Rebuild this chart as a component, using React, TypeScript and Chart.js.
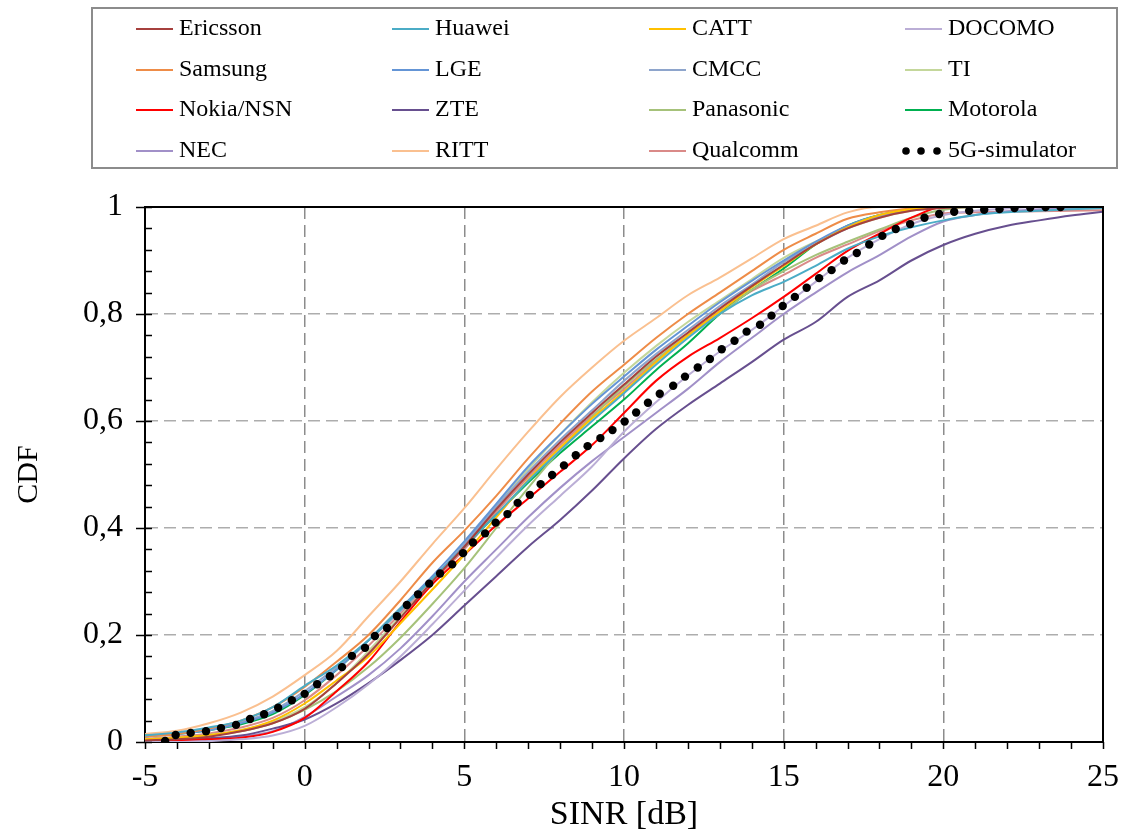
import React, { useEffect, useRef } from "react";
import { Chart, registerables } from "chart.js";

Chart.register(...registerables);

// SINR grid [dB] used by the vendor curves
const sinrGrid = [-5, -4, -3, -2, -1, 0, 1, 2, 3, 4, 5, 6, 7, 8, 9, 10, 11, 12, 13, 14, 15, 16, 17, 18, 19, 20, 21, 22, 23, 24, 25];

const ericsson = [0.003, 0.005, 0.01, 0.02, 0.035, 0.062, 0.11, 0.165, 0.232, 0.3, 0.365, 0.435, 0.5, 0.56, 0.615, 0.668, 0.72, 0.765, 0.81, 0.852, 0.892, 0.93, 0.96, 0.98, 0.993, 0.998, 1, 1, 1, 1, 1];
const huawei = [0.012, 0.018, 0.027, 0.04, 0.065, 0.105, 0.143, 0.19, 0.248, 0.305, 0.365, 0.425, 0.488, 0.545, 0.6, 0.652, 0.705, 0.755, 0.8, 0.835, 0.86, 0.89, 0.922, 0.945, 0.962, 0.975, 0.985, 0.99, 0.993, 0.996, 0.998];
const catt = [0.005, 0.008, 0.013, 0.022, 0.04, 0.072, 0.115, 0.16, 0.222, 0.285, 0.35, 0.42, 0.49, 0.55, 0.605, 0.655, 0.71, 0.76, 0.805, 0.85, 0.89, 0.93, 0.962, 0.985, 0.996, 1, 1, 1, 1, 1, 1];
const docomo = [0, 0, 0.002, 0.005, 0.012, 0.03, 0.065, 0.108, 0.16, 0.22, 0.283, 0.345, 0.405, 0.46, 0.515, 0.58, 0.635, 0.685, 0.73, 0.77, 0.815, 0.86, 0.905, 0.94, 0.968, 0.985, 0.993, 0.997, 1, 1, 1];
const samsung = [0.01, 0.015, 0.025, 0.04, 0.065, 0.103, 0.15, 0.2, 0.265, 0.335, 0.395, 0.46, 0.53, 0.595, 0.655, 0.705, 0.755, 0.8, 0.84, 0.88, 0.92, 0.95, 0.978, 0.99, 0.997, 1, 1, 1, 1, 1, 1];
const lge = [0.01, 0.015, 0.022, 0.035, 0.055, 0.09, 0.135, 0.19, 0.25, 0.31, 0.375, 0.445, 0.515, 0.575, 0.632, 0.683, 0.733, 0.778, 0.822, 0.862, 0.9, 0.935, 0.965, 0.985, 0.995, 1, 1, 1, 1, 1, 1];
const cmcc = [0.01, 0.016, 0.024, 0.037, 0.058, 0.095, 0.14, 0.19, 0.245, 0.305, 0.37, 0.44, 0.505, 0.565, 0.62, 0.675, 0.725, 0.77, 0.815, 0.855, 0.897, 0.93, 0.96, 0.982, 0.995, 1, 1, 1, 1, 1, 1];
const ti = [0.005, 0.008, 0.013, 0.022, 0.038, 0.065, 0.11, 0.17, 0.235, 0.3, 0.37, 0.44, 0.51, 0.575, 0.635, 0.69, 0.74, 0.785, 0.825, 0.865, 0.905, 0.935, 0.96, 0.98, 0.993, 1, 1, 1, 1, 1, 1];
const nokia = [0.002, 0.003, 0.005, 0.008, 0.019, 0.045, 0.095, 0.15, 0.225, 0.295, 0.35, 0.405, 0.455, 0.505, 0.555, 0.615, 0.675, 0.72, 0.755, 0.792, 0.832, 0.875, 0.918, 0.95, 0.98, 1, 1, 1, 1, 1, 1];
const zte = [0.002, 0.004, 0.007, 0.012, 0.025, 0.042, 0.072, 0.11, 0.153, 0.2, 0.255, 0.31, 0.365, 0.415, 0.47, 0.53, 0.585, 0.63, 0.67, 0.71, 0.752, 0.785, 0.832, 0.863, 0.9, 0.929, 0.95, 0.965, 0.975, 0.984, 0.991];
const panasonic = [0.004, 0.007, 0.012, 0.02, 0.035, 0.06, 0.095, 0.14, 0.195, 0.258, 0.325, 0.4, 0.475, 0.545, 0.608, 0.665, 0.715, 0.76, 0.8, 0.845, 0.88, 0.91, 0.935, 0.958, 0.98, 0.995, 1, 1, 1, 1, 1];
const motorola = [0.012, 0.015, 0.022, 0.033, 0.052, 0.088, 0.135, 0.19, 0.25, 0.305, 0.365, 0.425, 0.485, 0.54, 0.59, 0.64, 0.695, 0.745, 0.8, 0.845, 0.885, 0.93, 0.965, 0.985, 0.996, 1, 1, 1, 1, 1, 1];
const nec = [0.001, 0.002, 0.004, 0.01, 0.02, 0.047, 0.085, 0.125, 0.175, 0.235, 0.3, 0.36, 0.42, 0.475, 0.525, 0.57, 0.615, 0.66, 0.71, 0.755, 0.8, 0.84, 0.878, 0.91, 0.945, 0.973, 0.985, 0.992, 0.996, 0.998, 1];
const ritt = [0.015, 0.021, 0.035, 0.055, 0.085, 0.125, 0.17, 0.235, 0.3, 0.37, 0.437, 0.51, 0.58, 0.645, 0.7, 0.75, 0.792, 0.835, 0.868, 0.904, 0.94, 0.965, 0.99, 1, 1, 1, 1, 1, 1, 1, 1];
const qualcomm = [0.006, 0.01, 0.016, 0.027, 0.045, 0.078, 0.125, 0.18, 0.24, 0.3, 0.36, 0.43, 0.495, 0.555, 0.61, 0.66, 0.712, 0.76, 0.805, 0.843, 0.873, 0.905, 0.93, 0.955, 0.975, 0.988, 0.99, 0.991, 0.992, 0.993, 0.994];

// 5G-simulator markers
const simSinr = [-4.37, -4.04, -3.57, -3.09, -2.62, -2.15, -1.71, -1.27, -0.83, -0.4, 0, 0.39, 0.79, 1.17, 1.48, 1.89, 2.2, 2.58, 2.89, 3.2, 3.55, 3.9, 4.24, 4.62, 4.96, 5.27, 5.65, 5.98, 6.35, 6.67, 7.05, 7.39, 7.75, 8.12, 8.49, 8.86, 9.26, 9.64, 10.02, 10.38, 10.75, 11.12, 11.54, 11.91, 12.31, 12.69, 13.06, 13.46, 13.84, 14.26, 14.62, 14.97, 15.35, 15.72, 16.11, 16.5, 16.89, 17.29, 17.68, 18.09, 18.51, 18.96, 19.41, 19.87, 20.34, 20.81, 21.28, 21.76, 22.23, 22.72, 23.2, 23.67];
const simCdf = [0.002, 0.013, 0.017, 0.02, 0.026, 0.032, 0.043, 0.052, 0.064, 0.078, 0.09, 0.108, 0.123, 0.14, 0.161, 0.176, 0.198, 0.213, 0.235, 0.256, 0.276, 0.296, 0.315, 0.332, 0.353, 0.373, 0.39, 0.41, 0.426, 0.447, 0.462, 0.482, 0.499, 0.517, 0.536, 0.553, 0.568, 0.583, 0.599, 0.616, 0.634, 0.651, 0.666, 0.683, 0.7, 0.716, 0.734, 0.75, 0.767, 0.78, 0.797, 0.815, 0.832, 0.849, 0.867, 0.882, 0.9, 0.914, 0.93, 0.946, 0.959, 0.968, 0.98, 0.987, 0.991, 0.993, 0.995, 0.996, 0.998, 0.999, 1, 1];

const yTickValues = [0, 0.2, 0.4, 0.6, 0.8, 1];

// legend order (row-major, 4 columns)
const seriesLabels = ["Ericsson", "Huawei", "CATT", "DOCOMO", "Samsung", "LGE", "CMCC", "TI", "Nokia/NSN", "ZTE", "Panasonic", "Motorola", "NEC", "RITT", "Qualcomm"];
const seriesValues = [ericsson, huawei, catt, docomo, samsung, lge, cmcc, ti, nokia, zte, panasonic, motorola, nec, ritt, qualcomm];
const seriesColors = ["#A6403D", "#4BACC6", "#FFC000", "#BBAED6", "#EE8C48", "#6495D6", "#8EA5CC", "#C4D79B", "#FF0000", "#674F8F", "#A6C27A", "#00B050", "#A190C8", "#FAC090", "#DA8A88"];
const simLabel = "5G-simulator";

const SERIF = '"Liberation Serif", "Times New Roman", serif';

const framePlugin = {
  id: "frameAndLegend",
  afterDraw(chart: any) {
    const { ctx, chartArea: a, scales } = chart;
    const xs = scales.x;
    const ys = scales.y;
    ctx.save();
    // top/right frame
    ctx.strokeStyle = "#000";
    ctx.lineWidth = 2;
    ctx.beginPath();
    ctx.moveTo(a.left, a.top);
    ctx.lineTo(a.right, a.top);
    ctx.lineTo(a.right, a.bottom);
    ctx.stroke();
    // x ticks (every 1 dB, outward)
    ctx.lineWidth = 1.5;
    ctx.beginPath();
    for (let v = -5; v <= 25; v++) {
      const px = Math.round(xs.getPixelForValue(v)) + 0.5;
      ctx.moveTo(px, a.bottom);
      ctx.lineTo(px, a.bottom + 7);
    }
    // y ticks (every 0.04; majors cross the axis)
    for (let k = 0; k <= 25; k++) {
      const py = Math.round(ys.getPixelForValue(k * 0.04)) + 0.5;
      const major = k % 5 === 0;
      ctx.moveTo(major ? a.left - 9 : a.left, py);
      ctx.lineTo(a.left + 7, py);
    }
    ctx.stroke();

    // legend box
    ctx.strokeStyle = "#8C8C8C";
    ctx.lineWidth = 2;
    ctx.strokeRect(92, 8, 1025, 160);
    const colX = [136, 392, 649, 905];
    const rowY = [28, 69, 109, 150];
    ctx.font = "24px " + SERIF;
    ctx.fillStyle = "#000";
    ctx.textBaseline = "middle";
    ctx.textAlign = "left";
    const datasets = chart.data.datasets;
    for (let i = 0; i < 16; i++) {
      const cx = colX[i % 4];
      const cy = rowY[Math.floor(i / 4)];
      const ds = datasets[i];
      if (ds.label === simLabel) {
        ctx.fillStyle = "#000";
        for (const dx of [1, 16, 32]) {
          ctx.beginPath();
          ctx.arc(cx + dx, cy + 1, 3.8, 0, Math.PI * 2);
          ctx.fill();
        }
      } else {
        ctx.strokeStyle = ds.borderColor;
        ctx.lineWidth = 2;
        ctx.beginPath();
        ctx.moveTo(cx, cy + 1);
        ctx.lineTo(cx + 37, cy + 1);
        ctx.stroke();
      }
      ctx.fillStyle = "#000";
      ctx.fillText(ds.label, cx + 43, cy + 1);
    }
    ctx.restore();
  },
};

export default function App() {
  const canvasRef = useRef<HTMLCanvasElement | null>(null);

  useEffect(() => {
    document.body.style.margin = "0";
    const canvas = canvasRef.current;
    if (!canvas) return;

    const vendorSets = seriesLabels.map((label, i) => ({
      label,
      data: sinrGrid.map((x, j) => ({ x, y: seriesValues[i][j] })),
      borderColor: seriesColors[i],
      backgroundColor: seriesColors[i],
      borderWidth: 2,
      pointRadius: 0,
      cubicInterpolationMode: "monotone" as const,
      fill: false,
      order: 1,
    }));
    const simSet = {
      label: simLabel,
      data: simSinr.map((x, j) => ({ x, y: simCdf[j] })),
      showLine: false,
      borderColor: "#000",
      backgroundColor: "#000",
      pointRadius: 4.2,
      pointBorderWidth: 0,
      pointStyle: "circle",
      order: 0,
    };

    const chart = new Chart(canvas, {
      type: "line",
      data: { datasets: [...vendorSets, simSet] as any },
      options: {
        animation: false,
        responsive: false,
        devicePixelRatio: 1,
        layout: { padding: { top: 207, right: 25, left: 0, bottom: 0 } },
        plugins: { legend: { display: false }, tooltip: { enabled: false } },
        scales: {
          x: {
            type: "linear",
            min: -5,
            max: 25,
            ticks: {
              stepSize: 5,
              color: "#000",
              font: { family: SERIF, size: 32 },
              padding: 16,
              maxRotation: 0,
            },
            grid: { color: "#8C8C8C", lineWidth: 1.5, drawTicks: false },
            border: { display: true, color: "#000", width: 2, dash: [12, 6] },
            title: {
              display: true,
              text: "SINR [dB]",
              color: "#000",
              font: { family: SERIF, size: 34, lineHeight: 1 },
              padding: 0,
            },
            afterFit: (s: any) => {
              s.height = 90;
              s.paddingLeft = 0;
              s.paddingRight = 0;
            },
          },
          y: {
            type: "linear",
            min: 0,
            max: 1,
            afterBuildTicks: (s: any) => {
              s.ticks = yTickValues.map((v) => ({ value: v }));
            },
            ticks: {
              color: "#000",
              font: { family: SERIF, size: 32 },
              padding: 22,
              callback: (v: any) => {
                const n = Number(v);
                if (n === 0) return "0";
                if (n === 1) return "1";
                return n.toFixed(1).replace(".", ",");
              },
            },
            grid: { color: "#ADADAD", lineWidth: 1.5, drawTicks: false },
            border: { display: true, color: "#000", width: 2, dash: [12, 6] },
            title: {
              display: true,
              text: "CDF",
              color: "#000",
              font: { family: SERIF, size: 30, lineHeight: 1 },
              padding: { top: 14, bottom: 0 },
            },
            afterFit: (s: any) => {
              s.width = 145;
              s.paddingTop = 0;
              s.paddingBottom = 0;
            },
          },
        },
      },
      plugins: [framePlugin],
    });

    return () => chart.destroy();
  }, []);

  return (
    <div style={{ position: "absolute", left: 0, top: 0, width: 1128, height: 832 }}>
      <canvas ref={canvasRef} width={1128} height={832} style={{ display: "block" }} />
    </div>
  );
}
